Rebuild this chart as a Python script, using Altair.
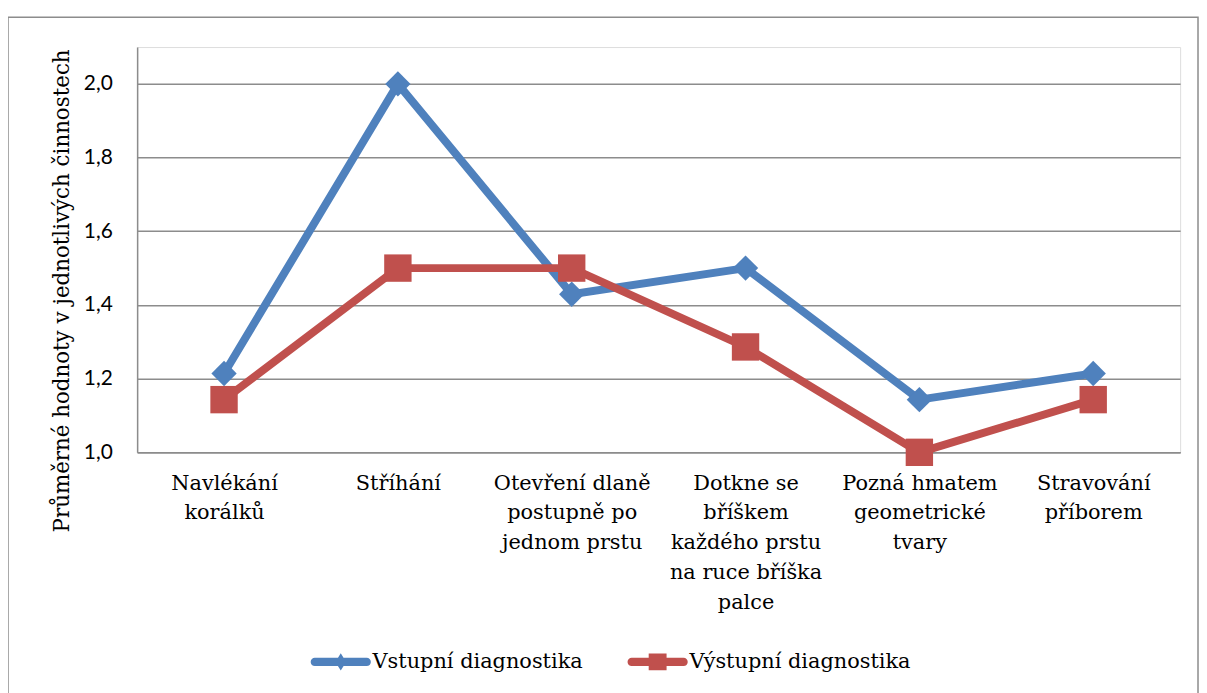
import altair as alt
import pandas as pd
import json

categories = [
    "Navlékání korálků",
    "Stříhání",
    "Otevření dlaně postupně po jednom prstu",
    "Dotkne se bříškem každého prstu na ruce bříška palce",
    "Pozná hmatem geometrické tvary",
    "Stravování příborem",
]
label_lines = [
    ["Navlékání", "korálků"],
    ["Stříhání"],
    ["Otevření dlaně", "postupně po", "jednom prstu"],
    ["Dotkne se", "bříškem", "každého prstu", "na ruce bříška", "palce"],
    ["Pozná hmatem", "geometrické", "tvary"],
    ["Stravování", "příborem"],
]
vstupni = [1.214, 2.0, 1.429, 1.5, 1.143, 1.214]
vystupni = [1.143, 1.5, 1.5, 1.286, 1.0, 1.143]
series_names = ["Vstupní diagnostika", "Výstupní diagnostika"]
colors = ["#4F81BD", "#C0504D"]
y_ticks = [1.0, 1.2, 1.4, 1.6, 1.8, 2.0]

rows = []
for s, vals in zip(series_names, [vstupni, vystupni]):
    for c, v in zip(categories, vals):
        rows.append({"kategorie": c, "hodnota": v, "serie": s})
df = pd.DataFrame(rows)

# multi-line x labels
expr = "datum.label"
for c, lines_ in reversed(list(zip(categories, label_lines))):
    expr = f"datum.label == {json.dumps(c, ensure_ascii=False)} ? {json.dumps(lines_, ensure_ascii=False)} : ({expr})"

serif = "DejaVu Serif"
sans = "Lato"
grid_col = "#8C8C8C"

x_enc = alt.X(
    "kategorie:N",
    sort=categories,
    scale=alt.Scale(type="point", padding=0.5),
    axis=alt.Axis(
        title=None,
        labelExpr=expr,
        labelAngle=0,
        labelFont=serif,
        labelFontSize=21,
        labelColor="#000000",
        labelLineHeight=30,
        labelPadding=20,
        labelBaseline="top",
        labelLimit=300,
        ticks=False,
        grid=False,
        domainColor=grid_col,
        domainWidth=1.5,
    ),
)
y_enc = alt.Y(
    "hodnota:Q",
    scale=alt.Scale(domain=[1.0, 2.1], nice=False, zero=False),
    axis=alt.Axis(
        title="Průměrné hodnoty v jednotlivých činnostech",
        titleFont=serif,
        titleFontSize=21.5,
        titleFontWeight="normal",
        titleColor="#000000",
        titleX=-64,
        titleY=245,
        titleAngle=-90,
        titleAlign="center",
        titleBaseline="bottom",
        values=y_ticks,
        labelExpr="replace(format(datum.value, '.1f'), '.', ',')",
        labelFont=sans,
        labelFontSize=21,
        labelColor="#000000",
        labelPadding=25,
        ticks=False,
        grid=True,
        gridColor=grid_col,
        gridWidth=1.5,
        domainColor=grid_col,
        domainWidth=1.5,
    ),
)

color_scale = alt.Scale(domain=series_names, range=colors)

bar = "M-0.87,-0.14H0.87A0.14,0.14 0 0 1 0.87,0.14H-0.87A0.14,0.14 0 0 1 -0.87,-0.14Z"
blue_sym = bar + " M0,-0.29L0.18,0L0,0.29L-0.18,0Z"
red_sym = bar + " M-0.3,-0.28H0.3V0.28H-0.3Z"

lines = alt.Chart(df).mark_line(strokeWidth=8).encode(
    x=x_enc,
    y=y_enc,
    color=alt.Color("serie:N", scale=color_scale, legend=None),
    detail="serie:N",
)

pts_blue = alt.Chart(df).transform_filter(
    alt.datum.serie == series_names[0]
).mark_point(filled=True, opacity=1, strokeWidth=0, shape="diamond", size=650).encode(
    x=x_enc, y=y_enc, color=alt.Color("serie:N", scale=color_scale, legend=None)
)
pts_red = alt.Chart(df).transform_filter(
    alt.datum.serie == series_names[1]
).mark_point(filled=True, opacity=1, strokeWidth=0, shape="square", size=760).encode(
    x=x_enc, y=y_enc, color=alt.Color("serie:N", scale=color_scale, legend=None)
)

legend_layer = alt.Chart(df).transform_filter(alt.datum.hodnota > 100).mark_point(
    filled=True, opacity=1, strokeWidth=0
).encode(
    x=x_enc,
    y=y_enc,
    color=alt.Color(
        "serie:N",
        scale=color_scale,
        legend=alt.Legend(
            title=None,
            orient="none",
            legendX=175,
            legendY=589,
            direction="horizontal",
            labelFont=serif,
            labelFontSize=21,
            labelColor="#000000",
            labelOffset=2,
            labelLimit=400,
            columnPadding=44,
            symbolSize=3600,
            symbolStrokeWidth=0,
            symbolOpacity=1,
            padding=0,
        ),
    ),
    shape=alt.Shape("serie:N", scale=alt.Scale(domain=series_names, range=[blue_sym, red_sym])),
)

frame = alt.Chart(alt.Data(values=[{"a": 1}])).mark_rect(
    fillOpacity=0, stroke="#8C8C8C", strokeWidth=1.5
).encode(
    x=alt.value(-130), x2=alt.value(1068), y=alt.value(-30), y2=alt.value(700)
)

chart = alt.layer(frame, lines, pts_blue, pts_red, legend_layer).resolve_legend(
    color="independent", shape="independent"
).properties(
    width=1050,
    height=408,
    autosize=alt.AutoSizeParams(type="none"),
    padding={"left": 130, "top": 37, "right": 19, "bottom": 240},
).configure_view(stroke=None).configure(background="#FFFFFF")

chart.save("out.html", embed_options={"renderer": "svg", "actions": False})
